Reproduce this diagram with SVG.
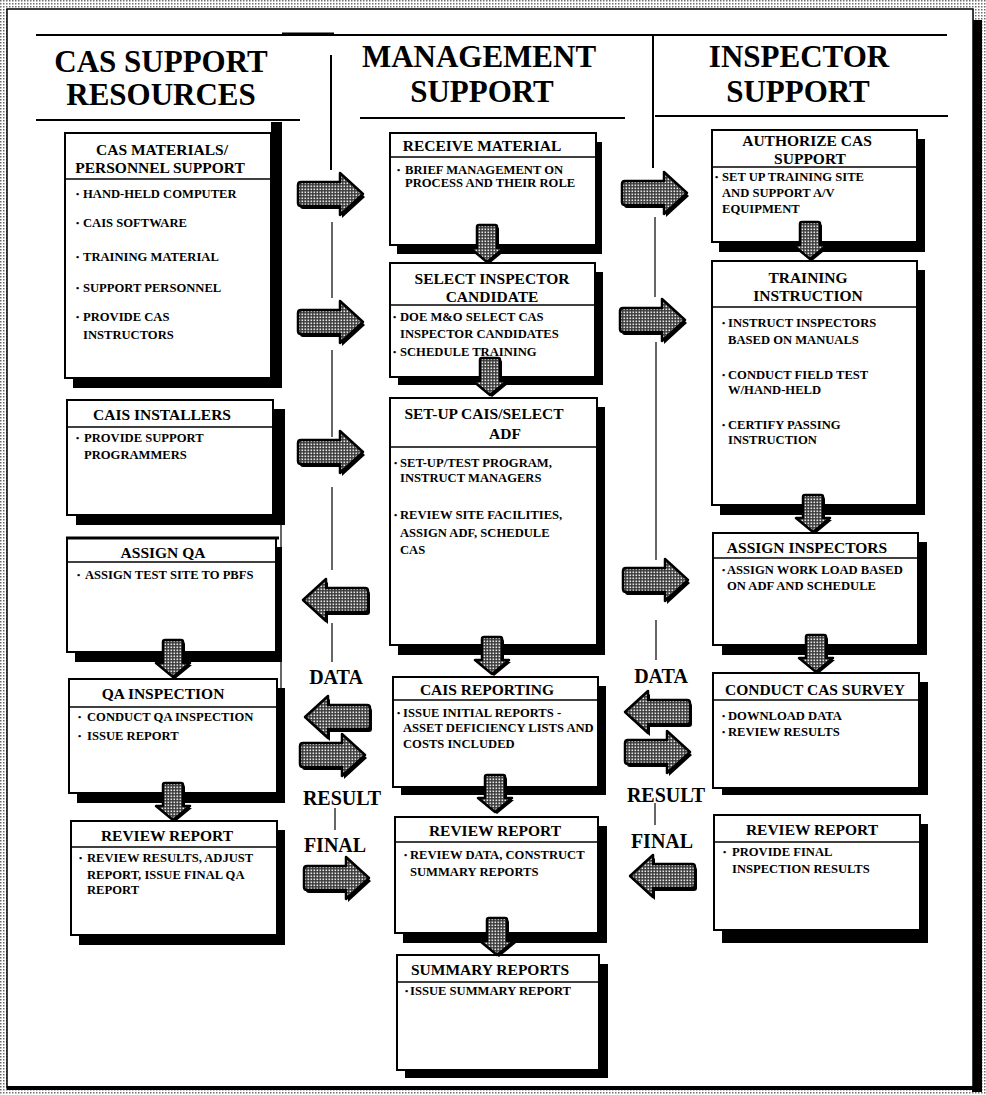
<svg xmlns="http://www.w3.org/2000/svg" width="986" height="1095" viewBox="0 0 986 1095">
<defs>
<pattern id="bgdots" width="3" height="3" patternUnits="userSpaceOnUse">
<rect width="3" height="3" fill="#ffffff"/>
<rect x="0" y="0" width="1.5" height="1.5" fill="#6e6e6e"/>
</pattern>
<pattern id="ardots" width="3" height="3" patternUnits="userSpaceOnUse">
<rect width="3" height="3" fill="#3a3a3a"/>
<rect x="0.5" y="0.5" width="1.6" height="1.6" fill="#e8e8e8"/>
</pattern>
<path id="rarrow" d="M3,-12 L42,-12 L42,-21 L65,0 L42,21 L42,12 L3,12 Q0,12 0,9 L0,-9 Q0,-12 3,-12 Z"/>
<path id="larrow" d="M-3,-12 L-42,-12 L-42,-21 L-65,0 L-42,21 L-42,12 L-3,12 Q0,12 0,9 L0,-9 Q0,-12 -3,-12 Z"/>
<path id="darrow" d="M-10,2 Q-10,0 -8,0 L8,0 Q10,0 10,2 L10,23 L17,23 L0,37 L-17,23 L-10,23 Z"/>
</defs>
<style>
.frame{fill:#ffffff;stroke:#000;stroke-width:1.5}
.hdr{font-family:"Liberation Serif","Times New Roman",serif;font-weight:bold;font-size:31px;fill:#000;text-anchor:middle}
.lbl{font-family:"Liberation Serif","Times New Roman",serif;font-weight:bold;font-size:20px;fill:#000;text-anchor:middle}
.ttl{font-family:"Liberation Serif","Times New Roman",serif;font-weight:bold;font-size:15.5px;fill:#000;text-anchor:middle}
.itm{font-family:"Liberation Serif","Times New Roman",serif;font-weight:bold;font-size:12.6px;fill:#000}
.bul{font-family:"Liberation Serif","Times New Roman",serif;font-weight:bold;font-size:9px;fill:#000}
.box{fill:#ffffff;stroke:#000;stroke-width:2}
.shd{fill:#000}
.div{stroke:#000;stroke-width:1.5}
.ln{stroke:#000;stroke-width:2;fill:none}
.thin{stroke:#000;stroke-width:1.2;fill:none}
.arr{fill:url(#ardots);stroke:#000;stroke-width:2.5;stroke-linejoin:round}
.arrs{fill:#000}
</style>

<rect x="0" y="0" width="986" height="1095" fill="url(#bgdots)"/>
<rect class="shd" x="972" y="20" width="10" height="1072"/>
<rect class="frame" x="7" y="9" width="966" height="1079"/>
<rect class="shd" x="7" y="1086" width="975" height="4"/>

<g id="header">
<line class="ln" x1="36" y1="35" x2="947" y2="35"/>
<line x1="282" y1="34" x2="334" y2="34" stroke="#000" stroke-width="3"/>
<line class="ln" x1="36" y1="120" x2="300" y2="120"/>
<line class="ln" x1="360" y1="118" x2="625" y2="118"/>
<line class="ln" x1="655" y1="116" x2="948" y2="116"/>
<line class="ln" x1="331" y1="55" x2="331" y2="170"/>
<line class="ln" x1="653" y1="35" x2="653" y2="168"/>
<text class="hdr" x="161" y="72">CAS SUPPORT</text>
<text class="hdr" x="161" y="105">RESOURCES</text>
<text class="hdr" x="479" y="67">MANAGEMENT</text>
<text class="hdr" x="482" y="102">SUPPORT</text>
<text class="hdr" x="799" y="67">INSPECTOR</text>
<text class="hdr" x="798" y="102">SUPPORT</text>
</g>

<g id="connectors">
<line class="thin" x1="332" y1="222" x2="332" y2="298"/>
<line class="thin" x1="332" y1="350" x2="332" y2="437"/>
<line class="thin" x1="332" y1="487" x2="332" y2="570"/>
<line class="thin" x1="332" y1="623" x2="332" y2="662"/>
<line class="thin" x1="655" y1="217" x2="655" y2="297"/>
<line class="thin" x1="656" y1="342" x2="656" y2="560"/>
<line class="thin" x1="656" y1="620" x2="656" y2="660"/>
<line class="thin" x1="335" y1="808" x2="335" y2="830"/>
<line class="thin" x1="655" y1="803" x2="655" y2="825"/>
<line class="thin" x1="281" y1="515" x2="281" y2="800"/>

<text class="lbl" x="336" y="684">DATA</text>
<text class="lbl" x="342" y="805">RESULT</text>
<text class="lbl" x="335" y="852">FINAL</text>
<text class="lbl" x="661" y="683">DATA</text>
<text class="lbl" x="666" y="802">RESULT</text>
<text class="lbl" x="662" y="848">FINAL</text>

<g transform="translate(298,194)"><use href="#rarrow" class="arrs" x="2" y="3"/><use href="#rarrow" class="arr"/></g>
<g transform="translate(298,322)"><use href="#rarrow" class="arrs" x="2" y="3"/><use href="#rarrow" class="arr"/></g>
<g transform="translate(298,452)"><use href="#rarrow" class="arrs" x="2" y="3"/><use href="#rarrow" class="arr"/></g>
<g transform="translate(368,600)"><use href="#larrow" class="arrs" x="2" y="3"/><use href="#larrow" class="arr"/></g>
<g transform="translate(370,717)"><use href="#larrow" class="arrs" x="2" y="3"/><use href="#larrow" class="arr"/></g>
<g transform="translate(300,755)"><use href="#rarrow" class="arrs" x="2" y="3"/><use href="#rarrow" class="arr"/></g>
<g transform="translate(304,878)"><use href="#rarrow" class="arrs" x="2" y="3"/><use href="#rarrow" class="arr"/></g>

<g transform="translate(622,193)"><use href="#rarrow" class="arrs" x="2" y="3"/><use href="#rarrow" class="arr"/></g>
<g transform="translate(620,320)"><use href="#rarrow" class="arrs" x="2" y="3"/><use href="#rarrow" class="arr"/></g>
<g transform="translate(623,580)"><use href="#rarrow" class="arrs" x="2" y="3"/><use href="#rarrow" class="arr"/></g>
<g transform="translate(690,712)"><use href="#larrow" class="arrs" x="2" y="3"/><use href="#larrow" class="arr"/></g>
<g transform="translate(625,752)"><use href="#rarrow" class="arrs" x="2" y="3"/><use href="#rarrow" class="arr"/></g>
<g transform="translate(695,876)"><use href="#larrow" class="arrs" x="2" y="3"/><use href="#larrow" class="arr"/></g>
</g>

<!-- Left column -->
<g id="cas-materials">
<rect class="shd" x="271" y="122" width="11" height="266"/>
<rect class="shd" x="73" y="142" width="209" height="246"/>
<rect class="box" x="65" y="133" width="206" height="245"/>
<line class="div" x1="65" y1="179" x2="271" y2="179"/>
<text class="ttl" x="162" y="155">CAS MATERIALS/</text>
<text class="ttl" x="160" y="173">PERSONNEL SUPPORT</text>
<text class="bul" x="76" y="197">•</text><text class="itm" x="83" y="198">HAND-HELD COMPUTER</text>
<text class="bul" x="76" y="226">•</text><text class="itm" x="83" y="227">CAIS SOFTWARE</text>
<text class="bul" x="76" y="260">•</text><text class="itm" x="83" y="261">TRAINING MATERIAL</text>
<text class="bul" x="76" y="291">•</text><text class="itm" x="83" y="292">SUPPORT PERSONNEL</text>
<text class="bul" x="76" y="320">•</text><text class="itm" x="83" y="321">PROVIDE CAS</text>
<text class="itm" x="83" y="339">INSTRUCTORS</text>
</g>

<g id="cais-installers">
<rect class="shd" x="76" y="409" width="209" height="116"/>
<rect class="box" x="67" y="400" width="206" height="115"/>
<line class="div" x1="67" y1="427" x2="273" y2="427"/>
<text class="ttl" x="162" y="420">CAIS INSTALLERS</text>
<text class="bul" x="76" y="441">•</text><text class="itm" x="84" y="442">PROVIDE SUPPORT</text>
<text class="itm" x="84" y="459">PROGRAMMERS</text>
</g>

<g id="assign-qa">
<rect class="shd" x="75" y="547" width="207" height="115"/>
<rect class="box" x="67" y="538" width="209" height="114"/>
<line x1="66" y1="538" x2="279" y2="538" stroke="#000" stroke-width="3"/>
<line class="div" x1="67" y1="562" x2="276" y2="562"/>
<text class="ttl" x="163" y="558">ASSIGN QA</text>
<text class="bul" x="77" y="578">•</text><text class="itm" x="85" y="579">ASSIGN TEST SITE TO PBFS</text>
</g>

<g id="qa-inspection">
<rect class="shd" x="77" y="688" width="208" height="115"/>
<rect class="box" x="69" y="679" width="208" height="114"/>
<line class="div" x1="69" y1="707" x2="277" y2="707"/>
<text class="ttl" x="163" y="699">QA INSPECTION</text>
<text class="bul" x="78" y="720">•</text><text class="itm" x="87" y="721">CONDUCT QA  INSPECTION</text>
<text class="bul" x="78" y="739">•</text><text class="itm" x="87" y="740">ISSUE REPORT</text>
</g>

<g id="review-report-left">
<rect class="shd" x="79" y="830" width="206" height="115"/>
<rect class="box" x="71" y="821" width="206" height="114"/>
<line class="div" x1="71" y1="847" x2="277" y2="847"/>
<text class="ttl" x="167" y="841">REVIEW REPORT</text>
<text class="bul" x="79" y="861">•</text><text class="itm" x="87" y="862">REVIEW RESULTS, ADJUST</text>
<text class="itm" x="87" y="879">REPORT, ISSUE FINAL QA</text>
<text class="itm" x="87" y="894">REPORT</text>
</g>

<!-- Middle column -->
<g id="receive-material">
<rect class="shd" x="397" y="142" width="205" height="112"/>
<rect class="box" x="390" y="133" width="206" height="112"/>
<line class="div" x1="390" y1="157" x2="596" y2="157"/>
<text class="ttl" x="482" y="151">RECEIVE MATERIAL</text>
<text class="bul" x="397" y="173">•</text><text class="itm" x="405" y="174">BRIEF MANAGEMENT ON</text>
<text class="itm" x="405" y="187">PROCESS AND THEIR ROLE</text>
</g>

<g id="select-inspector">
<rect class="shd" x="398" y="272" width="205" height="113"/>
<rect class="box" x="390" y="263" width="205" height="114"/>
<line class="div" x1="390" y1="305" x2="595" y2="305"/>
<text class="ttl" x="492" y="284">SELECT INSPECTOR</text>
<text class="ttl" x="492" y="302">CANDIDATE</text>
<text class="bul" x="393" y="320">•</text><text class="itm" x="400" y="321">DOE M&amp;O SELECT CAS</text>
<text class="itm" x="400" y="338">INSPECTOR CANDIDATES</text>
<text class="bul" x="393" y="355">•</text><text class="itm" x="400" y="356">SCHEDULE TRAINING</text>
</g>

<g id="setup-cais">
<rect class="shd" x="398" y="407" width="207" height="248"/>
<rect class="box" x="390" y="398" width="207" height="247"/>
<line class="div" x1="390" y1="447" x2="597" y2="447"/>
<text class="ttl" x="484" y="419">SET-UP CAIS/SELECT</text>
<text class="ttl" x="505" y="439">ADF</text>
<text class="bul" x="394" y="466">•</text><text class="itm" x="400" y="467">SET-UP/TEST PROGRAM,</text>
<text class="itm" x="400" y="482">INSTRUCT MANAGERS</text>
<text class="bul" x="394" y="518">•</text><text class="itm" x="400" y="519">REVIEW SITE FACILITIES,</text>
<text class="itm" x="400" y="537">ASSIGN ADF, SCHEDULE</text>
<text class="itm" x="400" y="554">CAS</text>
</g>

<g id="cais-reporting">
<rect class="shd" x="401" y="686" width="205" height="109"/>
<rect class="box" x="393" y="677" width="205" height="110"/>
<line class="div" x1="393" y1="700" x2="598" y2="700"/>
<text class="ttl" x="487" y="695">CAIS REPORTING</text>
<text class="bul" x="397" y="716">•</text><text class="itm" x="403" y="717">ISSUE INITIAL REPORTS  -</text>
<text class="itm" x="403" y="732">ASSET DEFICIENCY LISTS AND</text>
<text class="itm" x="403" y="748">COSTS INCLUDED</text>
</g>

<g id="review-report-mid">
<rect class="shd" x="403" y="826" width="204" height="117"/>
<rect class="box" x="395" y="817" width="203" height="116"/>
<line class="div" x1="395" y1="842" x2="598" y2="842"/>
<text class="ttl" x="495" y="836">REVIEW REPORT</text>
<text class="bul" x="404" y="858">•</text><text class="itm" x="410" y="859">REVIEW DATA, CONSTRUCT</text>
<text class="itm" x="410" y="876">SUMMARY REPORTS</text>
</g>

<g id="summary-reports">
<rect class="shd" x="405" y="964" width="203" height="114"/>
<rect class="box" x="397" y="955" width="202" height="115"/>
<line class="div" x1="397" y1="982" x2="599" y2="982"/>
<text class="ttl" x="490" y="975">SUMMARY REPORTS</text>
<text class="bul" x="405" y="994">•</text><text class="itm" x="410" y="995">ISSUE SUMMARY REPORT</text>
</g>

<!-- Right column -->
<g id="authorize-cas">
<rect class="shd" x="719" y="139" width="206" height="113"/>
<rect class="box" x="712" y="130" width="205" height="112"/>
<line class="div" x1="712" y1="167" x2="917" y2="167"/>
<text class="ttl" x="807" y="146">AUTHORIZE CAS</text>
<text class="ttl" x="810" y="164">SUPPORT</text>
<text class="bul" x="715" y="180">•</text><text class="itm" x="722" y="181">SET UP TRAINING SITE</text>
<text class="itm" x="722" y="197">AND SUPPORT A/V</text>
<text class="itm" x="722" y="213">EQUIPMENT</text>
</g>

<g id="training-instruction">
<rect class="shd" x="720" y="270" width="205" height="245"/>
<rect class="box" x="712" y="261" width="205" height="244"/>
<line class="div" x1="712" y1="307" x2="917" y2="307"/>
<text class="ttl" x="808" y="283">TRAINING</text>
<text class="ttl" x="808" y="301">INSTRUCTION</text>
<text class="bul" x="722" y="326">•</text><text class="itm" x="728" y="327">INSTRUCT INSPECTORS</text>
<text class="itm" x="728" y="344">BASED ON MANUALS</text>
<text class="bul" x="722" y="378">•</text><text class="itm" x="728" y="379">CONDUCT FIELD TEST</text>
<text class="itm" x="728" y="394">W/HAND-HELD</text>
<text class="bul" x="722" y="428">•</text><text class="itm" x="728" y="429">CERTIFY PASSING</text>
<text class="itm" x="728" y="444">INSTRUCTION</text>
</g>

<g id="assign-inspectors">
<rect class="shd" x="722" y="542" width="205" height="113"/>
<rect class="box" x="713" y="533" width="205" height="112"/>
<line class="div" x1="713" y1="558" x2="918" y2="558"/>
<text class="ttl" x="807" y="553">ASSIGN INSPECTORS</text>
<text class="bul" x="722" y="573">•</text><text class="itm" x="727" y="574">ASSIGN WORK LOAD BASED</text>
<text class="itm" x="727" y="590">ON ADF AND SCHEDULE</text>
</g>

<g id="conduct-cas-survey">
<rect class="shd" x="722" y="682" width="206" height="113"/>
<rect class="box" x="713" y="673" width="206" height="115"/>
<line class="div" x1="713" y1="700" x2="919" y2="700"/>
<text class="ttl" x="815" y="695">CONDUCT CAS SURVEY</text>
<text class="bul" x="722" y="719">•</text><text class="itm" x="728" y="720">DOWNLOAD DATA</text>
<text class="bul" x="722" y="735">•</text><text class="itm" x="728" y="736">REVIEW RESULTS</text>
</g>

<g id="review-report-right">
<rect class="shd" x="722" y="824" width="206" height="119"/>
<rect class="box" x="714" y="815" width="206" height="115"/>
<line class="div" x1="714" y1="842" x2="920" y2="842"/>
<text class="ttl" x="812" y="835">REVIEW REPORT</text>
<text class="bul" x="723" y="855">•</text><text class="itm" x="732" y="856">PROVIDE FINAL</text>
<text class="itm" x="732" y="873">INSPECTION RESULTS</text>
</g>

<g id="down-arrows">
<g transform="translate(487,225)"><use href="#darrow" class="arrs" x="2" y="2"/><use href="#darrow" class="arr"/></g>
<g transform="translate(490,358)"><use href="#darrow" class="arrs" x="2" y="2"/><use href="#darrow" class="arr"/></g>
<g transform="translate(492,637)"><use href="#darrow" class="arrs" x="2" y="2"/><use href="#darrow" class="arr"/></g>
<g transform="translate(495,775)"><use href="#darrow" class="arrs" x="2" y="2"/><use href="#darrow" class="arr"/></g>
<g transform="translate(497,918)"><use href="#darrow" class="arrs" x="2" y="2"/><use href="#darrow" class="arr"/></g>
<g transform="translate(173,640)"><use href="#darrow" class="arrs" x="2" y="2"/><use href="#darrow" class="arr"/></g>
<g transform="translate(173,783)"><use href="#darrow" class="arrs" x="2" y="2"/><use href="#darrow" class="arr"/></g>
<g transform="translate(810,222)"><use href="#darrow" class="arrs" x="2" y="2"/><use href="#darrow" class="arr"/></g>
<g transform="translate(813,495)"><use href="#darrow" class="arrs" x="2" y="2"/><use href="#darrow" class="arr"/></g>
<g transform="translate(816,635)"><use href="#darrow" class="arrs" x="2" y="2"/><use href="#darrow" class="arr"/></g>
</g>
</svg>
